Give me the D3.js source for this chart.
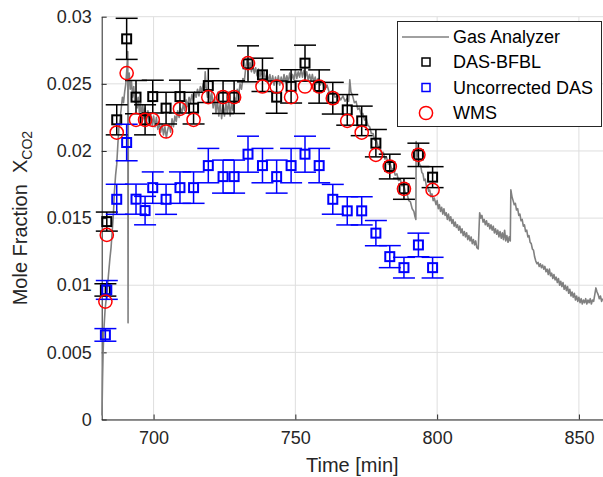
<!DOCTYPE html>
<html>
<head>
<meta charset="utf-8">
<script src="https://cdn.jsdelivr.net/npm/d3@7"></script>
<style>
  body { margin: 0; background: #fff; }
  svg { display: block; font-family: 'Liberation Sans', Arial, Helvetica, sans-serif; }
  .grid line { stroke: #dedede; stroke-width: 1; }
  .axis path, .axis line { stroke: #262626; }
  .axis text { fill: #262626; font-size: 18px; }
</style>
</head>
<body>
<svg id="chart" width="603" height="477"></svg>
<script>
// measurement times [min], shared by the three point series
var times = [683.0, 683.5, 687.0, 690.5, 693.8, 697.0, 699.7, 704.4, 709.3, 714.1,
  719.3, 724.5, 728.4, 733.3, 738.4, 743.4, 748.5, 753.4, 758.4, 763.2,
  768.3, 773.4, 778.4, 783.3, 788.3, 793.4, 798.4];

var dasBfbl = [0.00965, 0.01474, 0.02232, 0.02835, 0.02401, 0.02232, 0.02405, 0.02319, 0.02405, 0.02319,
  0.02487, 0.02401, 0.02401, 0.02649, 0.02567, 0.02401, 0.02481, 0.02654, 0.0248, 0.02393,
  0.02306, 0.02224, 0.02058, 0.01884, 0.01718, 0.01971, 0.01805];
var dasBfblErr = [0.00046, 0.00071, 0.00112, 0.00153, 0.00124, 0.00112, 0.00122, 0.00118, 0.00122, 0.00118,
  0.00126, 0.00122, 0.00122, 0.00134, 0.00124, 0.0012, 0.00124, 0.00134, 0.00124, 0.00118,
  0.00114, 0.0011, 0.00102, 0.00092, 0.00078, 0.00087, 0.00078];

var dasRaw = [0.0063, 0.00965, 0.0164, 0.02063, 0.01641, 0.01556, 0.01727, 0.0164, 0.01727, 0.01727,
  0.01891, 0.01809, 0.01809, 0.01976, 0.01891, 0.01809, 0.01891, 0.01976, 0.01891, 0.0164,
  0.01554, 0.01554, 0.01388, 0.01213, 0.01131, 0.013, 0.01131];
var dasRawErr = [0.00047, 0.0007, 0.00112, 0.00136, 0.00112, 0.00106, 0.00117, 0.00112, 0.00117, 0.00117,
  0.00128, 0.00123, 0.00123, 0.00134, 0.00128, 0.00123, 0.00128, 0.00134, 0.00128, 0.00111,
  0.00105, 0.00105, 0.00094, 0.00082, 0.00077, 0.00088, 0.00077];

var wms = [0.00878, 0.01375, 0.02137, 0.0258, 0.02232, 0.02232, 0.02232, 0.02145, 0.02314, 0.02232,
  0.02401, 0.02401, 0.02401, 0.02654, 0.0248, 0.0248, 0.02401, 0.0248, 0.0248, 0.02393,
  0.02224, 0.02137, 0.01971, 0.01884, 0.01718, 0.01971, 0.0171];

// gas analyzer trace [time, fraction]
var gas = [
  [681.8, 0.0003], [682.0, 0.003], [682.2, 0.005], [682.5, 0.0068], [682.9, 0.0082],
  [683.3, 0.009], [683.7, 0.0098], [684.1, 0.0108], [684.6, 0.012], [685.0, 0.0128],
  [685.4, 0.014], [685.8, 0.0152], [686.2, 0.017], [686.6, 0.0182], [687.0, 0.019],
  [687.4, 0.0205], [687.8, 0.0218], [688.2, 0.0224], [688.6, 0.0232], [689.0, 0.024],
  [689.4, 0.0236], [689.8, 0.0244], [690.2, 0.025], [690.6, 0.0262], [690.9, 0.0274],
  [691.0, 0.0072], [691.1, 0.025], [691.4, 0.0258], [691.8, 0.0246], [692.2, 0.0252],
  [692.6, 0.024], [693.0, 0.0248], [693.4, 0.0236], [693.8, 0.0244], [694.2, 0.0232],
  [694.6, 0.024], [695.0, 0.0228], [695.4, 0.0236], [695.8, 0.0226], [696.2, 0.0234],
  [696.6, 0.0224], [697.0, 0.0232], [697.5, 0.0222], [698.0, 0.023], [698.5, 0.0222],
  [699.0, 0.0228], [699.5, 0.0219], [700.0, 0.0226], [700.5, 0.0218], [701.0, 0.0225],
  [701.5, 0.0216], [702.0, 0.0222], [702.5, 0.0214], [703.0, 0.022], [703.5, 0.0212],
  [704.0, 0.0218], [704.5, 0.021], [705.0, 0.0216], [705.5, 0.022], [706.0, 0.0214],
  [706.5, 0.0224], [707.0, 0.0218], [707.5, 0.0226], [708.0, 0.0222], [708.5, 0.023],
  [709.0, 0.0225], [709.5, 0.0232], [710.0, 0.0228], [710.5, 0.0235], [711.0, 0.023],
  [711.5, 0.0238], [712.0, 0.0233], [712.5, 0.024], [713.0, 0.0236], [713.5, 0.0242],
  [714.0, 0.0237], [714.5, 0.0244], [715.0, 0.024], [715.5, 0.0246], [716.0, 0.0241],
  [716.5, 0.0248], [717.0, 0.0244], [717.5, 0.025], [718.0, 0.0247], [718.2, 0.0259],
  [718.5, 0.0248], [719.0, 0.024], [719.5, 0.0246], [720.0, 0.0236], [720.5, 0.0244],
  [721.0, 0.0232], [721.5, 0.024], [722.0, 0.0228], [722.5, 0.0238], [723.0, 0.0226],
  [723.5, 0.0236], [724.0, 0.0224], [724.5, 0.0234], [725.0, 0.0226], [725.5, 0.0236],
  [726.0, 0.0228], [726.5, 0.0238], [727.0, 0.0226], [727.5, 0.0236], [728.0, 0.023],
  [728.5, 0.024], [729.0, 0.0236], [729.5, 0.0246], [730.0, 0.0242], [730.5, 0.025],
  [731.0, 0.0246], [731.5, 0.0254], [732.0, 0.0252], [732.5, 0.0262], [733.0, 0.0268],
  [733.5, 0.0262], [734.0, 0.0266], [734.5, 0.0259], [735.0, 0.0264], [735.5, 0.0258],
  [736.0, 0.0262], [736.5, 0.0256], [737.0, 0.0261], [737.5, 0.0255], [738.0, 0.026],
  [738.5, 0.0254], [739.0, 0.0259], [739.5, 0.0252], [740.0, 0.0258], [740.5, 0.0251],
  [741.0, 0.0257], [741.5, 0.025], [742.0, 0.0256], [742.5, 0.0249], [743.0, 0.0255],
  [743.5, 0.025], [744.0, 0.0256], [744.5, 0.0249], [745.0, 0.0255], [745.5, 0.025],
  [746.0, 0.0257], [746.5, 0.0251], [747.0, 0.0256], [747.5, 0.0251], [748.0, 0.0258],
  [748.5, 0.0252], [749.0, 0.0257], [749.5, 0.0253], [750.0, 0.026], [750.5, 0.0254],
  [751.0, 0.0259], [751.5, 0.0255], [752.0, 0.0261], [752.5, 0.0255], [753.0, 0.026],
  [753.5, 0.0255], [754.0, 0.0259], [754.5, 0.0253], [755.0, 0.0257], [755.5, 0.0252],
  [756.0, 0.0257], [756.5, 0.0251], [757.0, 0.0255], [757.5, 0.025], [758.0, 0.0254],
  [758.7, 0.0249], [759.5, 0.0252], [760.3, 0.0246], [761.2, 0.0249], [762.0, 0.0243],
  [763.0, 0.0245], [764.0, 0.024], [765.0, 0.0242], [766.0, 0.0238], [766.8, 0.0241],
  [767.5, 0.0237], [768.2, 0.0239], [768.8, 0.0237], [769.2, 0.0253], [769.6, 0.0244],
  [770.2, 0.0241], [770.8, 0.0236], [771.4, 0.0237], [772.0, 0.0231], [772.6, 0.0232],
  [773.2, 0.0227], [773.8, 0.0228], [774.4, 0.0223], [775.0, 0.0224], [775.6, 0.0219],
  [776.2, 0.0218], [776.8, 0.0213], [777.4, 0.0213], [778.0, 0.0208], [778.6, 0.0208],
  [779.2, 0.0203], [779.8, 0.0203], [780.4, 0.0198], [781.0, 0.0199], [781.6, 0.0194],
  [782.2, 0.0195], [782.8, 0.019], [783.4, 0.0191], [784.0, 0.0186], [784.6, 0.0187],
  [785.2, 0.0182], [785.8, 0.0183], [786.4, 0.0178], [787.0, 0.0179], [787.6, 0.0174],
  [788.2, 0.0175], [788.8, 0.0169], [789.4, 0.0168], [790.0, 0.0163], [790.6, 0.0162],
  [791.2, 0.0157], [791.8, 0.0155], [792.2, 0.0151], [792.5, 0.0149], [792.6, 0.0207],
  [793.0, 0.0197], [793.4, 0.0195], [793.8, 0.019], [794.2, 0.0189], [794.6, 0.0184],
  [795.0, 0.0183], [795.4, 0.0178], [795.8, 0.0179], [796.2, 0.0174], [796.6, 0.0174],
  [797.0, 0.017], [797.4, 0.0171], [797.8, 0.0166], [798.2, 0.0168], [798.6, 0.0163],
  [799.0, 0.0165], [799.6, 0.016], [800.0, 0.0163], [800.4, 0.0157], [800.8, 0.016],
  [801.2, 0.0155], [801.6, 0.0158], [802.0, 0.0153], [802.4, 0.0157], [802.8, 0.0152],
  [803.2, 0.0154], [803.6, 0.0149], [804.0, 0.0153], [804.4, 0.0148], [804.8, 0.0151],
  [805.2, 0.0146], [805.6, 0.0149], [806.0, 0.0144], [806.4, 0.0147], [806.8, 0.0143],
  [807.2, 0.0145], [807.6, 0.0141], [808.0, 0.0144], [808.4, 0.0139], [808.8, 0.0142],
  [809.2, 0.0137], [809.6, 0.014], [810.0, 0.0136], [810.4, 0.0139], [810.8, 0.0134],
  [811.2, 0.0137], [811.6, 0.0133], [812.0, 0.0136], [812.4, 0.0131], [812.8, 0.0134],
  [813.2, 0.013], [813.6, 0.0133], [814.0, 0.0128], [814.5, 0.0127], [815.0, 0.0154],
  [815.4, 0.015], [815.8, 0.0152], [816.2, 0.0147], [816.6, 0.0149], [817.0, 0.0145],
  [817.4, 0.0148], [817.8, 0.0144], [818.2, 0.0146], [818.6, 0.0142], [819.0, 0.0145],
  [819.4, 0.0141], [819.8, 0.0144], [820.2, 0.0139], [820.6, 0.0142], [821.0, 0.0138],
  [821.4, 0.0141], [821.8, 0.0136], [822.2, 0.014], [822.6, 0.0135], [823.0, 0.0139],
  [823.4, 0.0134], [823.8, 0.0141], [824.2, 0.0133], [824.6, 0.0137], [825.0, 0.0132],
  [825.4, 0.0136], [825.8, 0.0133], [826.0, 0.0171], [826.4, 0.0166], [826.8, 0.0163],
  [827.2, 0.016], [827.6, 0.0161], [828.0, 0.0156], [828.4, 0.0157], [828.8, 0.0152],
  [829.2, 0.0153], [829.6, 0.0148], [830.0, 0.0149], [830.4, 0.0144], [830.8, 0.0145],
  [831.2, 0.014], [831.6, 0.0141], [832.0, 0.0136], [832.4, 0.0137], [832.8, 0.0132],
  [833.2, 0.0131], [833.6, 0.0127], [834.0, 0.0126], [834.4, 0.0121], [834.8, 0.0118],
  [835.2, 0.0116], [835.6, 0.0117], [836.0, 0.0114], [836.4, 0.0116], [836.8, 0.0113],
  [837.2, 0.0115], [837.6, 0.0112], [838.0, 0.0114], [838.4, 0.011], [838.8, 0.0112],
  [839.2, 0.0108], [839.6, 0.0112], [840.0, 0.0107], [840.4, 0.0109], [840.8, 0.0105],
  [841.2, 0.0108], [841.6, 0.0104], [842.0, 0.0106], [842.4, 0.0102], [842.8, 0.0105],
  [843.2, 0.01], [843.6, 0.0103], [844.0, 0.0099], [844.4, 0.0102], [844.8, 0.0097],
  [845.2, 0.01], [845.6, 0.0096], [846.0, 0.0099], [846.4, 0.0094], [846.8, 0.0097],
  [847.2, 0.0092], [847.6, 0.0095], [848.0, 0.0091], [848.4, 0.0094], [848.8, 0.0089],
  [849.2, 0.0092], [849.6, 0.0088], [850.0, 0.0091], [850.4, 0.0087], [850.8, 0.009],
  [851.2, 0.0086], [851.6, 0.0089], [852.0, 0.0087], [852.4, 0.009], [852.8, 0.0086],
  [853.2, 0.0089], [853.6, 0.0087], [854.0, 0.009], [854.4, 0.0086], [854.8, 0.0089],
  [855.2, 0.0088], [855.6, 0.0093], [856.0, 0.0098], [856.4, 0.0095], [856.8, 0.0093],
  [857.2, 0.009], [857.6, 0.0092], [858.0, 0.0088], [858.4, 0.009]
];

var xTicks = [700, 750, 800, 850];
var yTicks = [0, 0.005, 0.01, 0.015, 0.02, 0.025, 0.03];
var legendLabels = ['Gas Analyzer', 'DAS-BFBL', 'Uncorrected DAS', 'WMS'];


var plot = {left: 101.7, right: 603, top: 16.7, bottom: 419.5};

var svg = d3.select('#chart');

var x = d3.scaleLinear()
  .domain([681.7, 858.5])
  .range([plot.left, plot.right]);

var y = d3.scaleLinear()
  .domain([0, 0.03])
  .range([plot.bottom, plot.top]);


function translate(a, b) {
  return 'translate(' + a + ',' + b + ')';
}


function drawGrid(g) {
  g.attr('class', 'grid');

  g.selectAll('.gx')
    .data(xTicks)
    .enter()
    .append('line')
      .attr('x1', function(d) { return x(d); })
      .attr('x2', function(d) { return x(d); })
      .attr('y1', plot.top)
      .attr('y2', plot.bottom);

  g.selectAll('.gy')
    .data(yTicks)
    .enter()
    .append('line')
      .attr('x1', plot.left)
      .attr('x2', plot.right)
      .attr('y1', function(d) { return y(d); })
      .attr('y2', function(d) { return y(d); });
}


function drawAxes() {
  var xAxis = d3.axisBottom(x)
    .tickValues(xTicks)
    .tickSizeInner(-5)
    .tickSizeOuter(0)
    .tickPadding(12);

  var yAxis = d3.axisLeft(y)
    .tickValues(yTicks)
    .tickSizeInner(-5)
    .tickSizeOuter(0)
    .tickPadding(10)
    .tickFormat(function(d) { return String(+d.toFixed(3)); });

  svg.append('g')
    .attr('class', 'axis')
    .attr('transform', translate(0, plot.bottom))
    .call(xAxis);

  svg.append('g')
    .attr('class', 'axis')
    .attr('transform', translate(plot.left, 0))
    .call(yAxis);

  svg.selectAll('.axis').attr('font-family', null).attr('font-size', null);

  svg.append('text')
    .attr('x', (plot.left + plot.right) / 2)
    .attr('y', 472)
    .attr('text-anchor', 'middle')
    .attr('font-size', 20)
    .attr('fill', '#262626')
    .text('Time [min]');

  var yl = svg.append('text')
    .attr('transform', translate(27, (plot.top + plot.bottom) / 2) + ' rotate(-90)')
    .attr('text-anchor', 'middle')
    .attr('font-size', 20)
    .attr('fill', '#262626')
    .style('white-space', 'pre');
  yl.append('tspan').text('Mole Fraction  X');
  yl.append('tspan')
    .attr('font-size', 14)
    .attr('dy', 5)
    .text('CO2');
}


function drawGas(g) {
  var line = d3.line()
    .x(function(d) { return x(d[0]); })
    .y(function(d) { return y(d[1]); });

  g.append('path')
    .datum(gas)
    .attr('fill', 'none')
    .attr('stroke', '#808080')
    .attr('stroke-width', 1.6)
    .attr('stroke-linejoin', 'round')
    .attr('d', line);
}


function drawErrorSeries(g, values, errs, color) {
  var rows = d3.zip(times, values, errs);
  var cap = 11;

  var bars = g.append('g')
    .attr('stroke', color)
    .attr('stroke-width', 1.5)
    .selectAll('g')
    .data(rows)
    .enter()
    .append('g');

  bars.append('line')
    .attr('x1', function(d) { return x(d[0]); })
    .attr('x2', function(d) { return x(d[0]); })
    .attr('y1', function(d) { return y(d[1] - d[2]); })
    .attr('y2', function(d) { return y(d[1] + d[2]); });

  [-1, 1].forEach(function(s) {
    bars.append('line')
      .attr('x1', function(d) { return x(d[0]) - cap; })
      .attr('x2', function(d) { return x(d[0]) + cap; })
      .attr('y1', function(d) { return y(d[1] + s * d[2]); })
      .attr('y2', function(d) { return y(d[1] + s * d[2]); });
  });

  g.append('g')
    .selectAll('rect')
    .data(rows)
    .enter()
    .append('rect')
      .attr('x', function(d) { return x(d[0]) - 4.5; })
      .attr('y', function(d) { return y(d[1]) - 4.5; })
      .attr('width', 9)
      .attr('height', 9)
      .attr('fill', 'none')
      .attr('stroke', color)
      .attr('stroke-width', 2);
}


function drawWms(g) {
  g.selectAll('circle')
    .data(d3.zip(times, wms))
    .enter()
    .append('circle')
      .attr('cx', function(d) { return x(d[0]); })
      .attr('cy', function(d) { return y(d[1]); })
      .attr('r', 6.6)
      .attr('fill', 'none')
      .attr('stroke', '#ff0000')
      .attr('stroke-width', 1.5);
}


function drawLegend(g) {
  var rowY = [37, 62, 87.5, 113];

  g.append('rect')
    .attr('x', 397.5)
    .attr('y', 21.5)
    .attr('width', 204)
    .attr('height', 105)
    .attr('fill', '#fff')
    .attr('stroke', '#262626')
    .attr('stroke-width', 1);

  g.append('line')
    .attr('x1', 402)
    .attr('x2', 449)
    .attr('y1', rowY[0])
    .attr('y2', rowY[0])
    .attr('stroke', '#808080')
    .attr('stroke-width', 1.6);

  [['#000000', rowY[1]], ['#0000ff', rowY[2]]].forEach(function(m) {
    g.append('rect')
      .attr('x', 426 - 4)
      .attr('y', m[1] - 4)
      .attr('width', 8)
      .attr('height', 8)
      .attr('fill', 'none')
      .attr('stroke', m[0])
      .attr('stroke-width', 1.5);
  });

  g.append('circle')
    .attr('cx', 426)
    .attr('cy', rowY[3])
    .attr('r', 6.6)
    .attr('fill', 'none')
    .attr('stroke', '#ff0000')
    .attr('stroke-width', 1.5);

  g.selectAll('text')
    .data(legendLabels)
    .enter()
    .append('text')
      .attr('x', 453)
      .attr('y', function(d, i) { return rowY[i]; })
      .attr('dy', '0.35em')
      .attr('font-size', 18)
      .attr('fill', '#000')
      .text(function(d) { return d; });
}


svg.append('g').call(drawGrid);
drawAxes();
svg.append('g').call(drawGas);
drawErrorSeries(svg.append('g'), dasBfbl, dasBfblErr, '#000000');
drawErrorSeries(svg.append('g'), dasRaw, dasRawErr, '#0000ff');
svg.append('g').call(drawWms);
svg.append('g').call(drawLegend);
</script>
</body>
</html>
